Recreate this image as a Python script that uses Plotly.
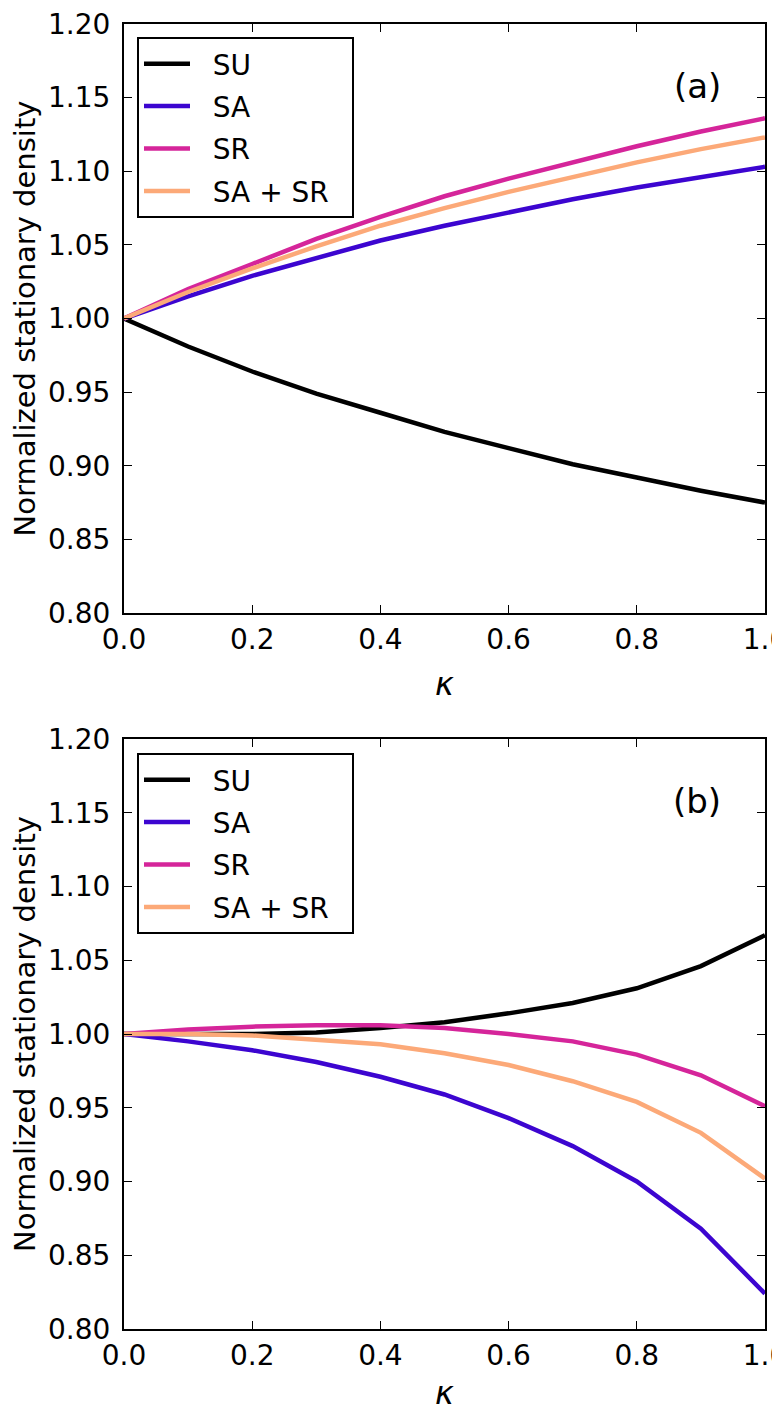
import plotly.graph_objects as go
from plotly.subplots import make_subplots

kappa = [0.0, 0.1, 0.2, 0.3, 0.4, 0.5, 0.6, 0.7, 0.8, 0.9, 1.0]

# Panel (a)
a_SU = [1.000, 0.981, 0.964, 0.949, 0.936, 0.923, 0.912, 0.901, 0.892, 0.883, 0.875]
a_SA = [1.000, 1.015, 1.029, 1.041, 1.053, 1.063, 1.072, 1.081, 1.089, 1.096, 1.103]
a_SR = [1.000, 1.020, 1.037, 1.054, 1.069, 1.083, 1.095, 1.106, 1.117, 1.127, 1.136]
a_SASR = [1.000, 1.018, 1.034, 1.049, 1.063, 1.075, 1.086, 1.096, 1.106, 1.115, 1.123]

# Panel (b)
b_SU = [1.000, 1.000, 1.000, 1.001, 1.004, 1.008, 1.014, 1.021, 1.031, 1.046, 1.067]
b_SA = [1.000, 0.995, 0.989, 0.981, 0.971, 0.959, 0.943, 0.924, 0.900, 0.868, 0.824]
b_SR = [1.000, 1.003, 1.005, 1.006, 1.006, 1.004, 1.000, 0.995, 0.986, 0.972, 0.951]
b_SASR = [1.000, 1.000, 0.999, 0.996, 0.993, 0.987, 0.979, 0.968, 0.954, 0.933, 0.902]

names = ["SU", "SA", "SR", "SA + SR"]
colors = ["#000000", "#3c05d0", "#d5259a", "#fca978"]
panel_labels = ["(a)", "(b)"]
xticks = [0.0, 0.2, 0.4, 0.6, 0.8, 1.0]
yticks = [0.80, 0.85, 0.90, 0.95, 1.00, 1.05, 1.10, 1.15, 1.20]

FONT = "DejaVu Sans"
W, H = 780, 1404
L, R, T, B = 116, 23, 16, 83
ph = H - T - B

fig = make_subplots(rows=2, cols=1, vertical_spacing=(731 - 605) / ph)
fig.update_yaxes(domain=[(1321 - 605) / ph, 1.0], row=1, col=1)
fig.update_yaxes(domain=[0.0, (1321 - 731) / ph], row=2, col=1)

lead = "\u00a0" * 2
trail = "\u00a0" * 2
for row, series, leg in [(1, [a_SU, a_SA, a_SR, a_SASR], "legend"),
                         (2, [b_SU, b_SA, b_SR, b_SASR], "legend2")]:
    for k, (name, col, ys) in enumerate(zip(names, colors, series)):
        fig.add_trace(go.Scatter(x=kappa, y=ys, mode="lines", name=lead + name + trail,
                                 line=dict(color=col, width=4.5),
                                 legend=leg, legendgroup=f"{leg}_{k}", showlegend=True),
                      row=row, col=1)

axis_common = dict(showline=True, linecolor="black", linewidth=2, mirror="ticks",
                   ticks="inside", ticklen=8, tickwidth=1, tickcolor="black",
                   showgrid=False, zeroline=False, ticklabeloverflow="allow",
                   tickfont=dict(family=FONT, size=28, color="black"))
for row in (1, 2):
    fig.update_xaxes(range=[0, 1], tickvals=xticks,
                     ticktext=[f"{v:.1f}" for v in xticks],
                     title=dict(text="<i>κ</i>", font=dict(family=FONT, size=32, color="black"),
                                standoff=18),
                     **axis_common, row=row, col=1)
    fig.update_yaxes(range=[0.80, 1.20], tickvals=yticks,
                     ticktext=[f"{v:.2f}" for v in yticks],
                     ticklabelstandoff=6,
                     title=dict(text="Normalized stationary density",
                                font=dict(family=FONT, size=29, color="black"),
                                standoff=27),
                     **axis_common, row=row, col=1)

leg_common = dict(bgcolor="white", bordercolor="black", borderwidth=2,
                  font=dict(family=FONT, size=28, color="black"),
                  xanchor="left", yanchor="top", tracegroupgap=3, itemwidth=46)
fig.update_layout(
    legend=dict(x=13 / (W - L - R), y=1 - 13 / ph, **leg_common),
    legend2=dict(x=13 / (W - L - R), y=(1321 - 745) / ph, **leg_common),
)

for i, lab in enumerate(panel_labels):
    yref = "y domain" if i == 0 else "y2 domain"
    xref = "x domain" if i == 0 else "x2 domain"
    fig.add_annotation(text=lab, x=(689 - L) / (W - L - R), y=1 - 62 / 589,
                       xref=xref, yref=yref, showarrow=False,
                       xanchor="center", yanchor="middle",
                       font=dict(family=FONT, size=34, color="black"))

fig.update_layout(width=W, height=H, margin=dict(l=L, r=R, t=T, b=B, autoexpand=False),
                  plot_bgcolor="white", paper_bgcolor="white",
                  font=dict(family=FONT, color="black"))

fig.write_html("out.html")
